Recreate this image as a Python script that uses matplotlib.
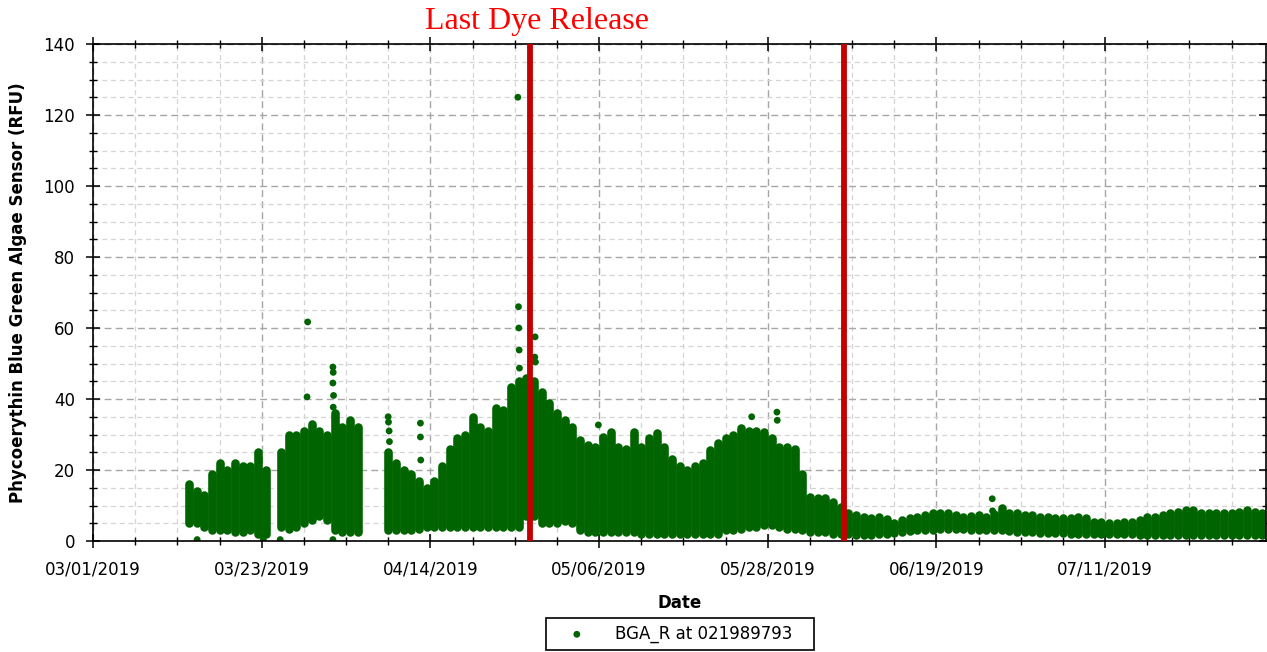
#!/usr/bin/env python3
import matplotlib
matplotlib.use('Agg')
import matplotlib.pyplot as plt
import matplotlib.dates as mdates
import matplotlib.ticker as mticker
import pandas as pd

GREEN = "#006400"
LINE_RED = "#c40000"

# daily spread of the readings (RFU): low / high of each day's cloud of points
# block 1: 03/13 - 03/23
start1 = "2019-03-13 12:00"
lo1 = [5, 5, 4, 3, 3, 3, 2.5, 2.5, 3, 2, 2]
hi1 = [16, 14, 13, 19, 22, 20, 22, 21, 21, 25, 20]

# block 2: 03/25 - 04/04
start2 = "2019-03-25 12:00"
lo2 = [4, 3.5, 4, 5, 6, 7, 6, 3, 2.5, 2.5, 2.5]
hi2 = [25, 30, 30, 31, 33, 31, 30, 36, 32, 34, 32]

# block 3: 04/08 - 07/31
start3 = "2019-04-08 12:00"
lo3 = [3, 3, 3, 3, 3.5, 4, 4, 4, 4, 4,
       4, 4, 4, 4, 4, 4, 4, 4, 7, 7,
       5, 5, 5, 5.5, 5, 3, 2.5, 2.5, 2.5, 2.5,
       2.5, 2.5, 2.5, 2, 2, 2, 2, 2, 2, 2,
       2, 2, 2, 2, 3, 3, 3.5, 4, 4, 4.5,
       4.5, 4, 3.5, 3.5, 3, 2.5, 2.5, 2.5, 2, 2,
       2, 1.8, 1.8, 1.8, 2, 2, 2.3, 2.5, 2.8, 3,
       3, 3.2, 3.4, 3.5, 3.5, 3.3, 3.2, 3, 3, 3,
       3, 2.8, 2.5, 2.5, 2.5, 2.3, 2.3, 2.2, 2.2, 2,
       2, 2, 2, 2, 2, 2, 2, 2, 1.8, 1.8,
       1.8, 1.8, 1.7, 1.7, 1.7, 1.7, 1.7, 1.7, 1.7, 1.7,
       1.7, 1.7, 1.7, 1.7, 1.7]
hi3 = [25, 22, 20, 19, 17, 15, 17, 21, 26, 29,
       30, 35, 32, 31, 37.5, 37, 43.5, 45, 46, 45,
       42, 39, 36, 34, 32, 28.5, 27, 26.5, 29.3, 30.7,
       26.5, 26, 30.7, 26.5, 29, 30.4, 26.5, 23, 21, 20,
       21, 22, 25.6, 27.6, 29, 30, 31.8, 31, 31, 30.7,
       29, 26.5, 26.5, 26, 19, 12.5, 12, 12, 11, 9.6,
       7.8, 7.3, 6.8, 6.5, 6.8, 6.3, 5.2, 5.9, 6.5, 6.8,
       7.3, 7.8, 7.8, 7.8, 7.3, 6.8, 7, 7.3, 6.8, 7.5,
       9.3, 7.8, 7.8, 7.3, 7.3, 6.8, 6.8, 6.5, 6.5, 6.5,
       6.8, 6.5, 5.4, 5.4, 5.2, 5.2, 5.4, 5.4, 5.9, 6.8,
       6.8, 7.3, 7.8, 8.2, 8.7, 8.7, 7.8, 7.8, 7.8, 7.8,
       7.8, 8.2, 8.7, 8.2, 7.8]

# isolated readings standing out of the cloud
out_time = ["2019-03-14 14:00", "2019-03-23 05:00", "2019-03-25 10:00", "2019-04-01 07:00",
            "2019-03-29 00:00", "2019-03-28 22:00",
            "2019-04-01 07:00", "2019-04-01 08:00", "2019-04-01 07:00", "2019-04-01 09:00",
            "2019-04-01 08:00",
            "2019-04-08 12:00", "2019-04-08 13:00", "2019-04-08 15:00", "2019-04-08 16:00",
            "2019-04-12 17:00", "2019-04-12 17:00", "2019-04-12 18:00",
            "2019-04-25 10:00", "2019-04-25 12:00", "2019-04-25 13:00", "2019-04-25 14:00",
            "2019-04-25 15:00",
            "2019-04-27 16:00", "2019-04-27 15:00", "2019-04-27 17:00",
            "2019-05-05 22:00", "2019-05-25 22:00", "2019-05-29 05:00", "2019-05-29 06:00",
            "2019-06-26 07:00", "2019-06-26 08:00"]
out_val = [0.4, 0.4, 0.4, 0.4,
           61.7, 40.6,
           49, 47.5, 44.5, 41,
           37.7,
           35, 33.5, 31, 28,
           33.2, 29.3, 22.8,
           125, 66, 60, 53.8,
           48.7,
           57.5, 51.8, 50.4,
           32.7, 35, 36.3, 34,
           11.9, 8.5]

dye_dates = ["2019-04-27 01:00", "2019-06-06 22:00"]
series_label = "BGA_R at 021989793"


def block_times(start, values):
    return list(pd.date_range(start, periods=len(values), freq="D"))


times = block_times(start1, hi1) + block_times(start2, hi2) + block_times(start3, hi3)
lows = lo1 + lo2 + lo3
highs = hi1 + hi2 + hi3

fig = plt.figure(figsize=(12.67, 6.52), dpi=100)
ax = fig.add_axes([93 / 1267, 111 / 652, (1266 - 93) / 1267, 497 / 652])

ax.vlines(mdates.date2num(times), lows, highs, colors=GREEN, linewidth=6.2,
          capstyle="round", zorder=2)
sc = ax.scatter(mdates.date2num(pd.to_datetime(out_time)), out_val, s=24,
                color=GREEN, edgecolors="none", zorder=2, label=series_label)

for d in dye_dates:
    ax.axvline(mdates.date2num(pd.Timestamp(d)), color=LINE_RED, linewidth=4.2, zorder=3)

# axes
ax.set_xlim(mdates.date2num(pd.Timestamp("2019-03-01")),
            mdates.date2num(pd.Timestamp("2019-08-01")))
ax.set_ylim(0, 140)
major = pd.date_range("2019-03-01", "2019-08-01", freq="22D")
minor = pd.date_range("2019-03-01", "2019-08-01", freq="132h")
ax.xaxis.set_major_locator(mticker.FixedLocator(mdates.date2num(major)))
ax.xaxis.set_minor_locator(mticker.FixedLocator(mdates.date2num(minor)))
ax.xaxis.set_major_formatter(mdates.DateFormatter("%m/%d/%Y"))
ax.yaxis.set_major_locator(mticker.MultipleLocator(20))
ax.yaxis.set_minor_locator(mticker.MultipleLocator(5))

ax.set_axisbelow(True)
ax.grid(which="major", color="#a6a6a6", linestyle=(0, (5, 3)), linewidth=1.0)
ax.grid(which="minor", color="#d4d4d4", linestyle=(0, (4, 3)), linewidth=0.9)

for sp in ax.spines.values():
    sp.set_linewidth(1.2)
    sp.set_color("black")
ax.tick_params(which="major", direction="inout", length=10, width=1.1,
               top=True, right=True, labelsize=12)
ax.tick_params(which="minor", direction="inout", length=6, width=1.0,
               top=True, right=True)
ax.tick_params(axis="x", which="major", pad=9)
ax.tick_params(axis="y", which="major", pad=8)

ax.set_ylabel("Phycoerythin Blue Green Algae Sensor (RFU)", fontsize=12, fontweight="bold")
ax.yaxis.set_label_coords(-0.056, 0.5)
ax.set_xlabel("Date", fontsize=12, fontweight="bold")
ax.xaxis.set_label_coords(0.5, -0.106)

fig.text(537 / 1267, 1 - 22 / 652, "Last Dye Release", color="#ff0000", fontsize=23,
         family="Liberation Serif", ha="center", va="center")

leg = fig.legend(handles=[sc], labels=[series_label], loc="upper left",
                 bbox_to_anchor=(546 / 1267, 34 / 652, 268 / 1267, 0.0), mode="expand",
                 frameon=True, fancybox=False, edgecolor="black", framealpha=1,
                 fontsize=12, borderpad=0.4, handlelength=2.9, handletextpad=0.85,
                 borderaxespad=0)
leg.get_frame().set_linewidth(1.2)

fig.savefig("out.png", dpi=100)
